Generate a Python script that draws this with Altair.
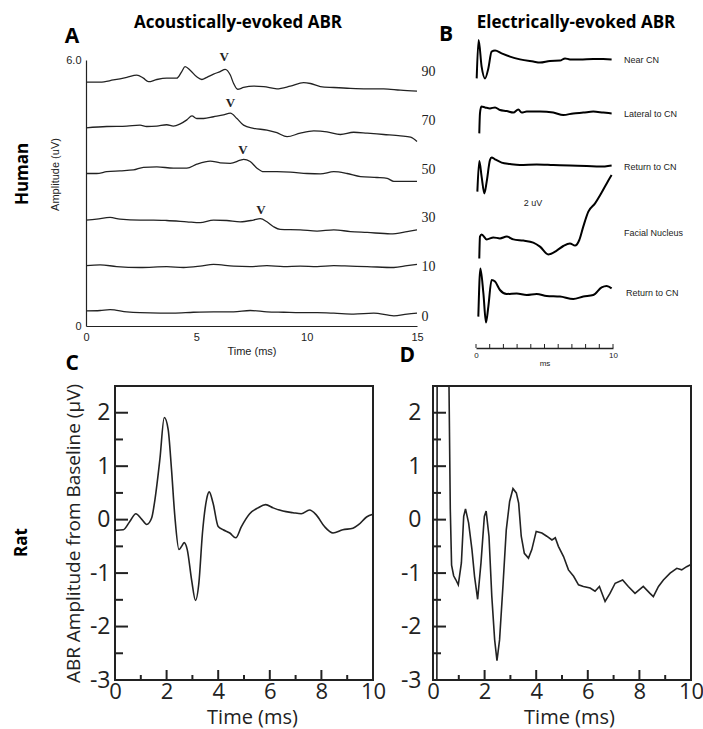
import altair as alt
import pandas as pd

# ---------------- Panel A: Human, acoustically-evoked ABR (offset traces, uV) ----------------
A_levels = ["90", "70", "50", "30", "10", "0"]
A90_t = [0, 0.64, 1.24, 1.85, 2.30, 2.60, 2.83, 3.21, 3.66, 4.11, 4.34, 4.49, 4.72, 5.02, 5.25, 5.48,
         5.78, 6.08, 6.31, 6.54, 6.69, 6.87, 7.14, 7.59, 8.05, 8.65, 9.26, 9.86, 10.17, 10.62, 11.23,
         11.98, 12.74, 13.49, 14.25, 15.0]
A90_v = [5.50, 5.50, 5.55, 5.61, 5.66, 5.59, 5.51, 5.56, 5.59, 5.59, 5.74, 5.85, 5.77, 5.62, 5.56, 5.61,
         5.68, 5.74, 5.79, 5.66, 5.47, 5.34, 5.38, 5.41, 5.40, 5.35, 5.41, 5.49, 5.47, 5.40, 5.38,
         5.36, 5.35, 5.35, 5.32, 5.30]
A70_t = [0, 0.94, 1.85, 2.45, 2.75, 3.21, 3.66, 3.96, 4.27, 4.57, 4.80, 5.02, 5.33, 5.78, 6.23, 6.54,
         6.84, 7.14, 7.59, 8.20, 8.65, 9.11, 9.71, 10.32, 10.92, 11.53, 12.13, 12.74, 13.49, 14.25,
         14.71, 15.0]
A70_v = [4.47, 4.50, 4.51, 4.53, 4.50, 4.51, 4.54, 4.51, 4.56, 4.65, 4.74, 4.68, 4.68, 4.72, 4.76, 4.80,
         4.68, 4.53, 4.46, 4.42, 4.36, 4.27, 4.35, 4.40, 4.38, 4.32, 4.37, 4.35, 4.32, 4.29, 4.26, 4.16]
A50_t = [0, 0.48, 0.94, 1.54, 2.15, 2.60, 3.21, 3.96, 4.57, 5.02, 5.63, 6.08, 6.54, 6.99, 7.14, 7.44,
         7.75, 8.05, 8.65, 9.26, 10.02, 10.62, 11.23, 11.83, 12.44, 13.19, 13.65, 13.95, 15.0]
A50_v = [3.44, 3.44, 3.48, 3.50, 3.52, 3.58, 3.59, 3.56, 3.56, 3.65, 3.72, 3.68, 3.67, 3.74, 3.76, 3.71,
         3.56, 3.48, 3.48, 3.47, 3.44, 3.43, 3.48, 3.44, 3.37, 3.35, 3.33, 3.26, 3.26]
A30_t = [0, 0.48, 1.09, 1.54, 2.45, 3.06, 3.66, 4.57, 5.17, 5.78, 6.38, 6.99, 7.59, 7.90, 8.20, 8.50,
         8.80, 9.71, 10.47, 11.23, 11.98, 12.74, 13.80, 14.55, 15.0]
A30_v = [2.39, 2.41, 2.45, 2.41, 2.39, 2.39, 2.38, 2.35, 2.33, 2.39, 2.38, 2.35, 2.39, 2.42, 2.35, 2.24,
         2.18, 2.17, 2.14, 2.17, 2.13, 2.11, 2.08, 2.13, 2.17]
A10_t = [0, 0.64, 1.39, 2.45, 3.66, 4.42, 5.17, 5.78, 6.69, 7.44, 8.20, 8.96, 9.71, 10.47, 11.23, 11.98,
         12.74, 13.95, 14.55, 15.0]
A10_v = [1.36, 1.38, 1.34, 1.32, 1.34, 1.32, 1.35, 1.39, 1.35, 1.34, 1.36, 1.34, 1.35, 1.34, 1.36, 1.35,
         1.34, 1.32, 1.36, 1.39]
A0_t = [0, 0.64, 1.09, 1.85, 2.45, 3.36, 3.96, 4.87, 5.78, 6.69, 7.44, 8.20, 8.96, 9.71, 10.47, 11.23,
        12.13, 13.04, 13.95, 14.55, 15.0]
A0_v = [0.34, 0.35, 0.37, 0.32, 0.30, 0.29, 0.29, 0.31, 0.32, 0.32, 0.35, 0.32, 0.31, 0.30, 0.30, 0.29,
        0.27, 0.29, 0.23, 0.27, 0.29]
A_wave_t = [6.26, 6.54, 7.11, 7.93]
A_wave_v = [6.06, 5.02, 3.97, 2.62]
A_level_label_v = [5.74, 4.63, 3.53, 2.43, 1.32, 0.21]
A_xticks = [0, 5, 10, 15]
A_yticks = [0, 6]

# ---------------- Panel B: Human, electrically-evoked ABR ----------------
B_names = ["Near CN", "Lateral to CN", "Return to CN", "Facial Nucleus", "Return to CN"]
B1_t = [0.05, 0.19, 0.41, 0.66, 0.90, 1.14, 1.39, 1.87, 2.48, 3.21, 4.18, 4.67, 5.40, 6.13, 6.50, 6.86,
        7.59, 8.56, 9.29, 9.90]
B1_v = [13.48, 15.40, 14.07, 13.48, 13.98, 14.82, 14.87, 14.73, 14.57, 14.43, 14.32, 14.27, 14.35, 14.37,
        14.48, 14.43, 14.43, 14.45, 14.45, 14.43]
B2_t = [0.24, 0.29, 0.39, 0.66, 1.02, 1.39, 1.75, 2.24, 2.73, 3.09, 3.33, 3.70, 4.67, 5.64, 6.37, 7.10,
        7.83, 8.56, 9.29, 9.90]
B2_v = [10.73, 11.73, 12.07, 12.03, 11.98, 12.03, 11.90, 11.85, 11.77, 11.93, 11.77, 11.82, 11.82, 11.77,
        11.65, 11.73, 11.77, 11.82, 11.77, 11.73]
B3_t = [0.10, 0.24, 0.41, 0.61, 0.78, 1.02, 1.14, 1.39, 1.87, 2.48, 3.21, 4.43, 5.64, 6.86, 8.08, 9.05, 9.90]
B3_v = [7.82, 9.35, 8.57, 7.73, 8.32, 9.40, 9.53, 9.43, 9.27, 9.20, 9.15, 9.18, 9.15, 9.12, 9.10, 9.07, 9.13]
B4_t = [0.24, 0.29, 0.41, 0.78, 1.27, 1.75, 2.24, 2.73, 3.45, 4.18, 4.67, 5.28, 5.89, 6.37, 6.86, 7.23,
        7.54, 7.83, 8.20, 8.69, 9.17, 9.54, 9.90]
B4_v = [4.48, 5.57, 5.68, 5.43, 5.53, 5.48, 5.57, 5.43, 5.37, 5.27, 5.07, 4.68, 4.87, 5.10, 5.23, 5.12,
        5.40, 6.07, 6.82, 7.23, 7.77, 8.23, 8.65]
B5_t = [0.17, 0.32, 0.54, 0.73, 0.90, 1.14, 1.39, 1.75, 2.24, 2.97, 3.70, 4.43, 5.16, 6.13, 7.10, 7.83,
        8.56, 9.17, 9.54, 9.90]
B5_v = [1.57, 3.98, 2.73, 1.27, 2.07, 3.40, 3.32, 2.90, 2.70, 2.73, 2.65, 2.70, 2.60, 2.57, 2.45, 2.57,
        2.65, 3.03, 3.10, 2.98]
B_label_t = [10.8, 10.8, 10.8, 10.8, 10.95]
B_label_v = [14.4, 11.7, 9.07, 5.73, 2.73]
B_bar_ticks = [0, 1, 2, 3, 4, 5, 6, 7, 8, 9, 10]
B_bar_labels = [0, 10]

# ---------------- Panel C: Rat, acoustically-evoked ABR ----------------
C_t = [0, 0.32, 0.58, 0.81, 1.03, 1.23, 1.42, 1.55, 1.74, 1.91, 2.06, 2.19, 2.32, 2.48, 2.58, 2.68, 2.80,
       2.97, 3.12, 3.25, 3.39, 3.55, 3.65, 3.80, 4.00, 4.19, 4.45, 4.68, 4.90, 5.22, 5.54, 5.84, 6.13,
       6.51, 6.90, 7.22, 7.54, 7.80, 8.12, 8.45, 8.83, 9.22, 9.45, 9.75, 10.0]
C_v = [-0.20, -0.19, -0.03, 0.11, 0.01, -0.09, 0.03, 0.38, 1.13, 1.91, 1.69, 0.94, 0.06, -0.56, -0.50,
       -0.43, -0.56, -1.13, -1.51, -1.19, -0.25, 0.38, 0.52, 0.31, -0.13, -0.19, -0.25, -0.34, -0.13,
       0.11, 0.22, 0.28, 0.22, 0.16, 0.13, 0.11, 0.18, 0.09, -0.13, -0.25, -0.19, -0.16, -0.09, 0.05, 0.10]

# ---------------- Panel D: Rat, electrically-evoked ABR ----------------
D_t = [0.15, 0.16, 0.62, 0.67, 0.72, 0.80, 0.88, 0.98, 1.10, 1.19, 1.26, 1.38, 1.51, 1.61, 1.73, 1.86,
       1.99, 2.06, 2.17, 2.28, 2.39, 2.48, 2.58, 2.71, 2.84, 2.97, 3.10, 3.23, 3.32, 3.42, 3.54, 3.70,
       3.83, 4.00, 4.22, 4.41, 4.61, 4.74, 4.86, 5.06, 5.25, 5.45, 5.64, 5.83, 6.09, 6.28, 6.45, 6.67,
       6.86, 7.06, 7.35, 7.57, 7.83, 8.15, 8.41, 8.54, 8.74, 8.93, 9.19, 9.45, 9.64, 9.83, 10.0]
D_v = [-3.0, 2.5, 2.5, 0.20, -0.85, -1.05, -1.12, -1.22, -0.81, 0.06, 0.20, -0.06, -0.56, -1.06, -1.49,
       -0.81, 0.06, 0.16, -0.31, -1.44, -2.25, -2.64, -2.25, -1.25, -0.19, 0.34, 0.58, 0.50, 0.31, -0.31,
       -0.63, -0.72, -0.56, -0.22, -0.25, -0.31, -0.38, -0.34, -0.50, -0.69, -0.94, -1.06, -1.22, -1.25,
       -1.28, -1.34, -1.25, -1.53, -1.38, -1.19, -1.13, -1.25, -1.38, -1.25, -1.38, -1.44, -1.25, -1.13,
       -1.00, -0.91, -0.94, -0.88, -0.84]

CD_xdomain = [0, 10]
CD_ydomain = [-3, 2.5]
CD_xticks_major = [0, 2, 4, 6, 8, 10]
CD_xticks_minor = [1, 3, 5, 7, 9]
CD_yticks_major = [-3, -2, -1, 0, 1, 2]
CD_yticks_minor = [-2.5, -1.5, -0.5, 0.5, 1.5]

# ---------------- layout (pixel placement of each panel inside the 703x729 page) ----------------
W, H = 703, 729
xA = alt.Scale(domain=[0, 15], range=[86, 417])
yA = alt.Scale(domain=[0, 6], range=[326, 60])
xB = alt.Scale(domain=[0, 10], range=[476, 613])
yB = alt.Scale(domain=[0, 16], range=[348, 28])
xC = alt.Scale(domain=CD_xdomain, range=[115, 373])
yC = alt.Scale(domain=CD_ydomain, range=[680, 386])
xD = alt.Scale(domain=CD_xdomain, range=[433, 691])
yD = alt.Scale(domain=CD_ydomain, range=[680, 386])

INK = "#222222"
SANS = "Liberation Sans"
BOLD = "Open Sans"


def X(field, scale, axis=None):
    return alt.X(field, type="quantitative", scale=scale, axis=axis)


def Y(field, scale, axis=None):
    return alt.Y(field, type="quantitative", scale=scale, axis=axis)


def text_layer(df, xs, ys, **mk):
    return alt.Chart(df).mark_text(**mk).encode(x=X("t", xs), y=Y("v", ys), text="s:N")


layers = []

# ======================= Panel A =======================
A_series = [(A90_t, A90_v), (A70_t, A70_v), (A50_t, A50_v), (A30_t, A30_v), (A10_t, A10_v), (A0_t, A0_v)]
A_rows = []
for lev, (ts, vs) in zip(A_levels, A_series):
    for t, v in zip(ts, vs):
        A_rows.append({"level": lev, "t": t, "v": v})
A_df = pd.DataFrame(A_rows)

axA_x = alt.Axis(orient="bottom", offset=326 - H, values=A_xticks, ticks=False, grid=False,
                 labelFlush=False, domainColor=INK, domainWidth=1.2, labelFont=SANS, labelFontSize=11,
                 labelColor=INK, labelPadding=5, title="Time (ms)", titleFont=SANS, titleFontSize=11,
                 titleFontWeight="normal", titleColor=INK, titlePadding=3)
axA_y = alt.Axis(orient="left", offset=-86, values=A_yticks, ticks=False, grid=False, domainColor=INK,
                 domainWidth=1.2, labelFont=SANS, labelFontSize=11, labelColor=INK, labelPadding=5,
                 labelExpr="datum.value == 0 ? '0' : format(datum.value, '.1f')",
                 title="Amplitude (uV)", titleFont=SANS, titleFontSize=11, titleFontWeight="normal",
                 titleColor=INK, titlePadding=5, titleY=174)

layers.append(alt.Chart(A_df).mark_line(color=INK, strokeWidth=1.3, interpolate="monotone").encode(
    x=X("t", xA, axA_x), y=Y("v", yA, axA_y), detail="level:N"))
layers.append(text_layer(pd.DataFrame({"t": [15.2] * 6, "v": A_level_label_v, "s": A_levels}), xA, yA,
                         align="left", baseline="middle", font="Liberation Serif", fontSize=14, color=INK))
layers.append(text_layer(pd.DataFrame({"t": A_wave_t, "v": A_wave_v, "s": ["V"] * 4}), xA, yA,
                         align="center", baseline="middle", font="Liberation Serif", fontSize=13,
                         fontWeight="bold", color=INK))
layers.append(text_layer(pd.DataFrame({"t": [6.89], "v": [6.84], "s": ["Acoustically-evoked ABR"]}), xA, yA,
                         align="center", baseline="middle", font=BOLD, fontSize=17, fontWeight="bold",
                         color="black"))
layers.append(text_layer(pd.DataFrame({"t": [-0.63], "v": [6.52], "s": ["A"]}), xA, yA,
                         align="center", baseline="middle", font=BOLD, fontSize=21, fontWeight="bold",
                         color="black"))
layers.append(text_layer(pd.DataFrame({"t": [-2.85], "v": [3.43], "s": ["Human"]}), xA, yA,
                         align="center", baseline="middle", angle=270, font=BOLD, fontSize=17,
                         fontWeight="bold", color="black"))

# ======================= Panel B =======================
B_series = [(B1_t, B1_v), (B2_t, B2_v), (B3_t, B3_v), (B4_t, B4_v), (B5_t, B5_v)]
B_rows = []
for i, (ts, vs) in enumerate(B_series):
    for t, v in zip(ts, vs):
        B_rows.append({"trace": i, "t": t, "v": v})
B_df = pd.DataFrame(B_rows)

axB_x = alt.Axis(orient="bottom", offset=348 - H, values=B_bar_labels, ticks=False, grid=False,
                 labelFlush=False, domainColor=INK, domainWidth=1.5, labelFont=SANS, labelFontSize=8,
                 labelColor=INK, labelPadding=3, title="ms", titleFont=SANS, titleFontSize=8,
                 titleFontWeight="normal", titleColor=INK, titlePadding=0)

layers.append(alt.Chart(B_df).mark_line(color="black", strokeWidth=2, interpolate="monotone").encode(
    x=X("t", xB, axB_x), y=Y("v", yB), detail="trace:N"))
layers.append(alt.Chart(pd.DataFrame({"t": B_bar_ticks, "base": [0] * len(B_bar_ticks)})).mark_rule(
    color=INK, strokeWidth=1, y2Offset=-4).encode(x=X("t", xB), y=Y("base", yB), y2="base"))
layers.append(text_layer(pd.DataFrame({"t": B_label_t, "v": B_label_v, "s": B_names}), xB, yB,
                         align="left", baseline="middle", font=SANS, fontSize=9, color=INK))
layers.append(text_layer(pd.DataFrame({"t": [4.16], "v": [7.25], "s": ["2 uV"]}), xB, yB,
                         align="center", baseline="middle", font=SANS, fontSize=9, color=INK))
layers.append(text_layer(pd.DataFrame({"t": [7.3], "v": [16.25], "s": ["Electrically-evoked ABR"]}), xB, yB,
                         align="center", baseline="middle", font=BOLD, fontSize=17, fontWeight="bold",
                         color="black"))
layers.append(text_layer(pd.DataFrame({"t": [-2.19], "v": [15.65], "s": ["B"]}), xB, yB,
                         align="center", baseline="middle", font=BOLD, fontSize=21, fontWeight="bold",
                         color="black"))


# ======================= Panels C and D =======================
def rat_panel(ts, vs, xs, ys, xaxis, yaxis, interp):
    out = []
    out.append(alt.Chart(pd.DataFrame({"x0": [CD_xdomain[0]], "x1": [CD_xdomain[1]],
                                       "y0": [CD_ydomain[0]], "y1": [CD_ydomain[1]]})).mark_rect(
        fillOpacity=0, stroke=INK, strokeWidth=2).encode(
        x=X("x0", xs), x2="x1", y=Y("y0", ys), y2="y1"))
    n1, n2 = len(CD_xticks_major), len(CD_xticks_minor)
    out.append(alt.Chart(pd.DataFrame({"t": CD_xticks_major, "v": [CD_ydomain[0]] * n1})).mark_rule(
        color=INK, strokeWidth=2, y2Offset=-10).encode(x=X("t", xs), y=Y("v", ys), y2="v"))
    out.append(alt.Chart(pd.DataFrame({"t": CD_xticks_minor, "v": [CD_ydomain[0]] * n2})).mark_rule(
        color=INK, strokeWidth=2, y2Offset=-5).encode(x=X("t", xs), y=Y("v", ys), y2="v"))
    m1, m2 = len(CD_yticks_major), len(CD_yticks_minor)
    out.append(alt.Chart(pd.DataFrame({"v": CD_yticks_major, "t": [CD_xdomain[0]] * m1})).mark_rule(
        color=INK, strokeWidth=2, x2Offset=13).encode(x=X("t", xs), x2="t", y=Y("v", ys)))
    out.append(alt.Chart(pd.DataFrame({"v": CD_yticks_minor, "t": [CD_xdomain[0]] * m2})).mark_rule(
        color=INK, strokeWidth=2, x2Offset=8).encode(x=X("t", xs), x2="t", y=Y("v", ys)))
    out.append(alt.Chart(pd.DataFrame({"t": ts, "v": vs})).mark_line(
        color=INK, strokeWidth=1.6, interpolate=interp).encode(
        x=X("t", xs, xaxis), y=Y("v", ys, yaxis)))
    return out


def cd_xaxis(title_x):
    return alt.Axis(orient="bottom", offset=680 - H, values=CD_xticks_major, ticks=False, domain=False,
                    grid=False, labelFlush=False, labelFont=BOLD, labelFontSize=22, labelColor=INK,
                    labelPadding=1, title="Time (ms)", titleFont=BOLD, titleFontSize=20,
                    titleFontWeight="normal", titleColor=INK, titlePadding=5, titleX=title_x)


axC_y = alt.Axis(orient="left", offset=-115, values=CD_yticks_major, ticks=False, domain=False, grid=False,
                 labelFont=BOLD, labelFontSize=23, labelColor=INK, labelPadding=5,
                 labelExpr="replace(datum.label, '\u2212', '-')",
                 title="ABR Amplitude from Baseline (\u00b5V)", titleFont=BOLD, titleFontSize=19,
                 titleFontWeight="normal", titleColor=INK, titlePadding=6)
axD_y = alt.Axis(orient="left", offset=-433, values=CD_yticks_major, ticks=False, domain=False, grid=False,
                 labelFont=BOLD, labelFontSize=23, labelColor=INK, labelPadding=12,
                 labelExpr="replace(datum.label, '\u2212', '-')", title=None)

layers += rat_panel(C_t, C_v, xC, yC, cd_xaxis(252), axC_y, "monotone")
layers.append(text_layer(pd.DataFrame({"t": [-1.66], "v": [2.91], "s": ["C"]}), xC, yC,
                         align="center", baseline="middle", font=BOLD, fontSize=21, fontWeight="bold",
                         color="black"))
layers.append(text_layer(pd.DataFrame({"t": [-3.6], "v": [-0.43], "s": ["Rat"]}), xC, yC,
                         align="center", baseline="middle", angle=270, font=BOLD, fontSize=17,
                         fontWeight="bold", color="black"))
layers += rat_panel(D_t, D_v, xD, yD, cd_xaxis(569), axD_y, "linear")
layers.append(text_layer(pd.DataFrame({"t": [-1.0], "v": [3.06], "s": ["D"]}), xD, yD,
                         align="center", baseline="middle", font=BOLD, fontSize=21, fontWeight="bold",
                         color="black"))

chart = alt.layer(*layers).resolve_scale(
    x="independent", y="independent"
).properties(
    width=W, height=H, padding=0, autosize=alt.AutoSizeParams(type="none"),
    background="white"
).configure_view(strokeWidth=0)

chart.save("out.html", embed_options={"renderer": "svg", "actions": False})
